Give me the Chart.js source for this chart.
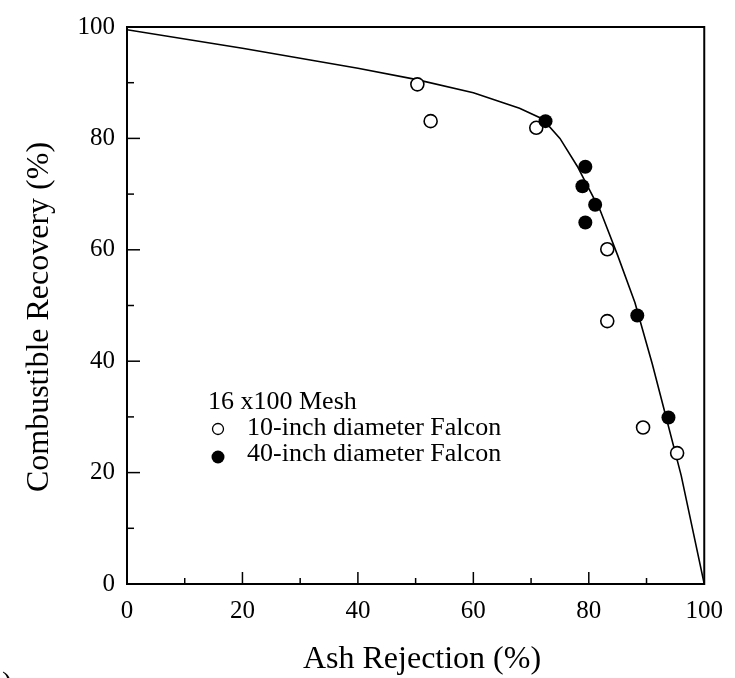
<!DOCTYPE html>
<html>
<head>
<meta charset="utf-8">
<script src="https://cdn.jsdelivr.net/npm/chart.js@4/dist/chart.umd.min.js"></script>
<style>
  html, body { margin: 0; padding: 0; background: #fff; }
  #wrap { width: 735px; height: 678px; position: relative; }
</style>
</head>
<body>
<div id="wrap"><canvas id="chart" width="735" height="678"></canvas></div>
<script>
// -- data
const falcon10X = [50.3, 52.6, 70.9, 83.2, 83.2, 89.4, 95.3];
const falcon10Y = [89.7, 83.1, 81.9, 60.1, 47.2, 28.1, 23.5];
const falcon40X = [72.5, 79.4, 78.9, 81.1, 79.4, 88.4, 93.8];
const falcon40Y = [83.1, 74.9, 71.4, 68.1, 64.9, 48.2, 29.9];
const curveX = [0, 20, 40, 50, 60, 68, 72, 75, 78, 82, 85, 88, 91, 93, 96, 100];
const curveY = [99.5, 96.2, 92.6, 90.6, 88.2, 85.4, 83.5, 80, 75, 67, 59, 50.5, 39.5, 31.5, 19.5, 0];
const xTicks = [0, 20, 40, 60, 80, 100];
const yTicks = [0, 20, 40, 60, 80, 100];

const xTitle = "Ash Rejection (%)";
const yTitle = "Combustible Recovery (%)";
const legendTitle = "16 x100 Mesh";
const legendLabels = ["10-inch diameter Falcon", "40-inch diameter Falcon"];

const serif = "'Liberation Serif', 'DejaVu Serif', serif";

function toPts(xs, ys) {
  return xs.map((x, i) => ({ x: x, y: ys[i] }));
}

// inward ticks, frame, titles, legend
const decor = {
  id: "decor",
  afterDraw(chart) {
    const { ctx, chartArea: a, scales } = chart;
    const xs = scales.x, ys = scales.y;
    ctx.save();
    ctx.strokeStyle = "#000";
    ctx.lineWidth = 2;
    ctx.strokeRect(a.left, a.top, a.right - a.left, a.bottom - a.top);

    ctx.lineWidth = 1.5;
    for (let v = 10; v < 100; v += 10) {
      const major = v % 20 === 0;
      const px = xs.getPixelForValue(v);
      ctx.beginPath();
      ctx.moveTo(px, a.bottom);
      ctx.lineTo(px, a.bottom - (major ? 12 : 6));
      ctx.stroke();
      const py = ys.getPixelForValue(v);
      ctx.beginPath();
      ctx.moveTo(a.left, py);
      ctx.lineTo(a.left + (major ? 13 : 7), py);
      ctx.stroke();
    }

    ctx.fillStyle = "#000";
    // axis titles
    ctx.font = "32px " + serif;
    ctx.textAlign = "center";
    ctx.textBaseline = "alphabetic";
    ctx.fillText(xTitle, 422, 668);
    ctx.save();
    ctx.translate(48, 317);
    ctx.rotate(-Math.PI / 2);
    ctx.fillText(yTitle, 0, 0);
    ctx.restore();

    // legend
    ctx.font = "26px " + serif;
    ctx.textAlign = "left";
    ctx.fillText(legendTitle, 208, 409);
    ctx.fillText(legendLabels[0], 247, 435);
    ctx.fillText(legendLabels[1], 247, 461);
    ctx.lineWidth = 1.3;
    ctx.beginPath();
    ctx.arc(218, 429, 5.5, 0, Math.PI * 2);
    ctx.fillStyle = "#fff";
    ctx.fill();
    ctx.stroke();
    ctx.beginPath();
    ctx.arc(218, 457, 6.5, 0, Math.PI * 2);
    ctx.fillStyle = "#000";
    ctx.fill();

    // cut-off panel label at bottom left
    ctx.font = "30px " + serif;
    ctx.fillText(")", 2, 692);
    ctx.restore();
  },
};

window.addEventListener("load", () => {
  const ctx = document.getElementById("chart").getContext("2d");
  new Chart(ctx, {
    type: "scatter",
    data: {
      datasets: [
        {
          label: "curve",
          data: toPts(curveX, curveY),
          showLine: true,
          borderColor: "#000",
          borderWidth: 1.6,
          pointRadius: 0,
          tension: 0,
          order: 3,
        },
        {
          label: legendLabels[0],
          data: toPts(falcon10X, falcon10Y),
          pointRadius: 6.5,
          pointBorderWidth: 1.6,
          pointBorderColor: "#000",
          pointBackgroundColor: "#fff",
          order: 2,
        },
        {
          label: legendLabels[1],
          data: toPts(falcon40X, falcon40Y),
          pointRadius: 7,
          pointBorderWidth: 0,
          pointBorderColor: "#000",
          pointBackgroundColor: "#000",
          order: 1,
        },
      ],
    },
    options: {
      responsive: false,
      animation: false,
      layout: { padding: { top: 22, right: 30, left: 0, bottom: 0 } },
      plugins: { legend: { display: false }, tooltip: { enabled: false } },
      scales: {
        x: {
          type: "linear",
          min: 0,
          max: 100,
          afterBuildTicks: (s) => { s.ticks = xTicks.map((v) => ({ value: v })); },
          afterFit: (s) => { s.height = 94; },
          grid: { display: false, drawTicks: false },
          border: { display: false },
          ticks: { color: "#000", font: { family: serif, size: 25 }, padding: 12, maxRotation: 0 },
        },
        y: {
          type: "linear",
          min: 0,
          max: 100,
          afterBuildTicks: (s) => { s.ticks = yTicks.map((v) => ({ value: v })); },
          afterFit: (s) => { s.width = 127; },
          grid: { display: false, drawTicks: false },
          border: { display: false },
          ticks: { color: "#000", font: { family: serif, size: 25 }, padding: 12 },
        },
      },
    },
    plugins: [decor],
  });
});
</script>
</body>
</html>
